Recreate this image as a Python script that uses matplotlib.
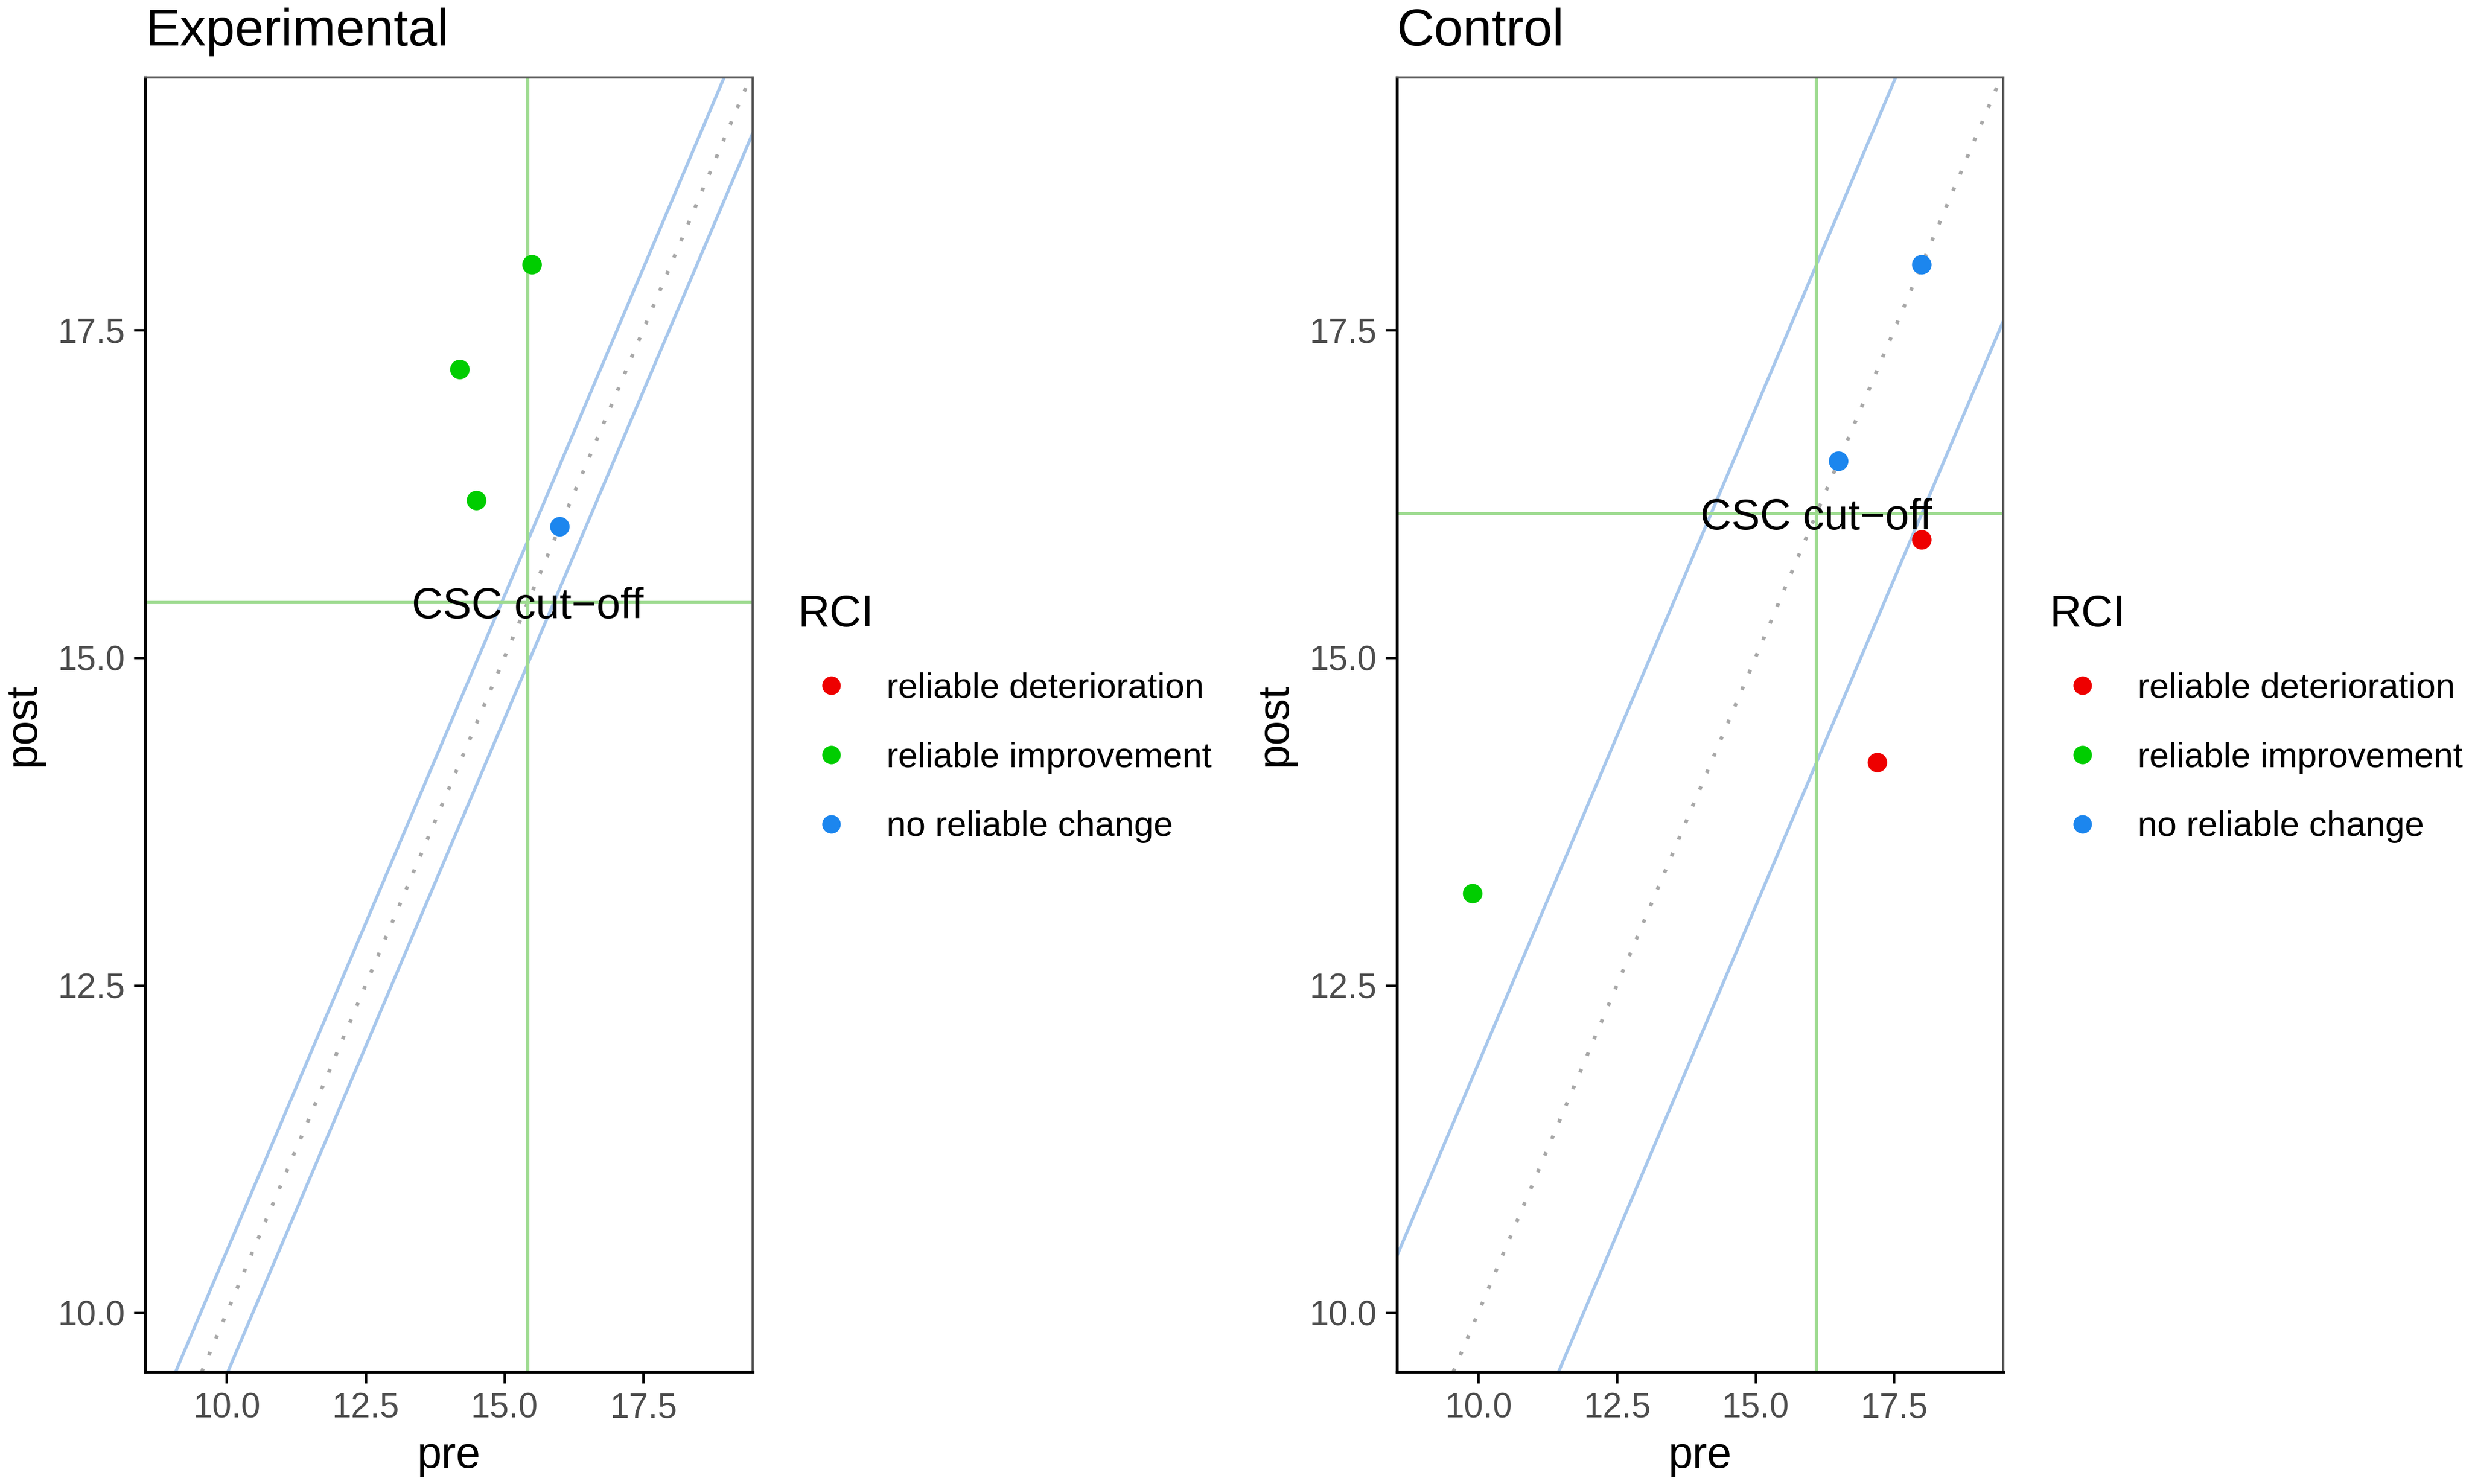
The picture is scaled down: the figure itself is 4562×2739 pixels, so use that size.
import matplotlib
matplotlib.use('Agg')
import matplotlib.pyplot as plt
from matplotlib.lines import Line2D

plt.rcParams['font.family'] = ['Liberation Sans', 'DejaVu Sans']

# data
exp_pre = [15.5, 14.2, 14.5, 16.0]
exp_post = [18.0, 17.2, 16.2, 16.0]
exp_rci = ['reliable improvement', 'reliable improvement', 'reliable improvement', 'no reliable change']

ctrl_pre = [18.0, 16.5, 18.0, 17.2, 9.9]
ctrl_post = [18.0, 16.5, 15.9, 14.2, 13.2]
ctrl_rci = ['no reliable change', 'no reliable change', 'reliable deterioration',
            'reliable deterioration', 'reliable improvement']

groups = ['Experimental', 'Control']
csc_cutoff = [15.42, 16.1]     # clinically significant change cut-off
rci_band = [0.47, 1.9]         # half width of the no-reliable-change band

rci_levels = ['reliable deterioration', 'reliable improvement', 'no reliable change']
rci_colors = {'reliable deterioration': '#EE0000',
              'reliable improvement': '#00CD00',
              'no reliable change': '#1C86EE'}

xticks = [10.0, 12.5, 15.0, 17.5]
yticks = [10.0, 12.5, 15.0, 17.5]

fig = plt.figure(figsize=(4562 / 300, 2739 / 300), dpi=300)
ax_exp = fig.add_axes([0.0587, 0.0756, 0.2457, 0.8723])
ax_ctrl = fig.add_axes([0.5650, 0.0756, 0.2454, 0.8723])

panels = [
    (ax_exp, exp_pre, exp_post, exp_rci, 0.3227),
    (ax_ctrl, ctrl_pre, ctrl_post, ctrl_rci, 0.8290),
]

for i, (ax, pre, post, rci, leg_x) in enumerate(panels):
    cut = csc_cutoff[i]
    band = rci_band[i]

    # reference lines
    ax.axline((0, 0), slope=1, color='#A8A8A8', lw=1.6, ls=(0, (1, 4)), zorder=1)
    ax.axline((0, band), slope=1, color='#A7C7EC', lw=1.4, zorder=1)
    ax.axline((0, -band), slope=1, color='#A7C7EC', lw=1.4, zorder=1)
    ax.axvline(cut, color='#9EDB90', lw=1.4, zorder=1)
    ax.axhline(cut, color='#9EDB90', lw=1.4, zorder=1)
    ax.text(cut, cut, 'CSC cut\u2212off', ha='center', va='center_baseline',
            fontsize=19, zorder=3)

    cols = [rci_colors[r] for r in rci]
    ax.scatter(pre, post, c=cols, s=75, linewidths=0, zorder=4)

    ax.set_xlim(8.53, 19.47)
    ax.set_ylim(9.55, 19.43)
    ax.set_xticks(xticks)
    ax.set_yticks(yticks)
    ax.set_xticklabels([f'{t:.1f}' for t in xticks])
    ax.set_yticklabels([f'{t:.1f}' for t in yticks])
    ax.tick_params(length=5, width=1.1, color='black', labelcolor='#4D4D4D',
                   labelsize=15.3, pad=4)

    for side in ['top', 'right']:
        ax.spines[side].set_color('#555555')
        ax.spines[side].set_linewidth(1.0)
    for side in ['left', 'bottom']:
        ax.spines[side].set_color('black')
        ax.spines[side].set_linewidth(1.3)

    ax.set_xlabel('pre', fontsize=19.5, labelpad=5)
    ax.set_ylabel('post', fontsize=19.5, labelpad=6)
    ax.set_title(groups[i], loc='left', fontsize=23, pad=14)

    handles = [Line2D([], [], ls='', marker='o', markersize=8.2, markeredgewidth=0,
                      color=rci_colors[lv]) for lv in rci_levels]
    ax.legend(handles, rci_levels, title='RCI', loc='upper left',
              bbox_to_anchor=(leg_x, 0.5995), bbox_transform=fig.transFigure,
              frameon=False, fontsize=15.5, title_fontsize=19.5, alignment='left',
              borderpad=0, borderaxespad=0, handlelength=1.9, handletextpad=0.63,
              labelspacing=1.05)

fig.savefig('out.png', dpi=300, facecolor='white')
